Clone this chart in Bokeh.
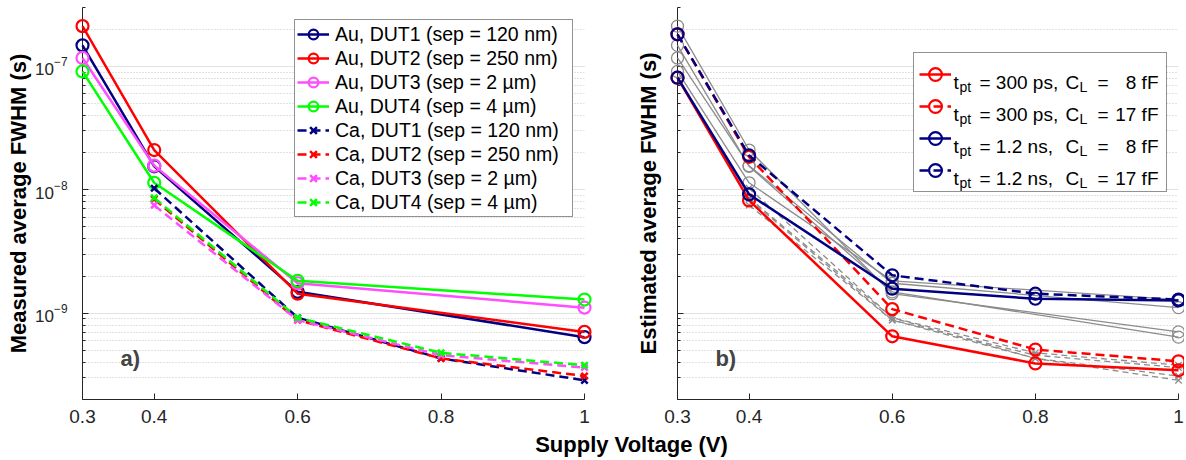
from bokeh.plotting import figure
from bokeh.models import Range1d, FixedTicker, CustomJSTickFormatter, Legend, LegendItem, Label, BoxAnnotation
from bokeh.layouts import column, row
from bokeh.embed import file_html
from bokeh.resources import INLINE
from bokeh.core.properties import value

# ---------------- data ----------------
V_AU = [0.3, 0.4, 0.6, 1.0]
V_CA = [0.4, 0.6, 0.8, 1.0]
V_SIM = [0.3, 0.4, 0.6, 0.8, 1.0]
X_TICKS = [0.3, 0.4, 0.6, 0.8, 1.0]

AU_DUT1 = [1.48e-7, 1.55e-8, 1.49e-9, 6.4e-10]
AU_DUT2 = [2.12e-7, 2.10e-8, 1.44e-9, 7.06e-10]
AU_DUT3 = [1.17e-7, 1.57e-8, 1.75e-9, 1.11e-9]
AU_DUT4 = [9.1e-8, 1.14e-8, 1.83e-9, 1.29e-9]

CA_DUT1 = [1.03e-8, 9.2e-10, 4.3e-10, 2.86e-10]
CA_DUT2 = [8.4e-9, 8.8e-10, 4.3e-10, 3.1e-10]
CA_DUT3 = [7.5e-9, 8.8e-10, 4.57e-10, 3.63e-10]
CA_DUT4 = [8.6e-9, 9.2e-10, 4.78e-10, 3.79e-10]

AU_LABELS = ["Au, DUT1 (sep = 120 nm)", "Au, DUT2 (sep = 250 nm)",
             "Au, DUT3 (sep = 2 \u00b5m)", "Au, DUT4 (sep = 4 \u00b5m)"]
CA_LABELS = ["Ca, DUT1 (sep = 120 nm)", "Ca, DUT2 (sep = 250 nm)",
             "Ca, DUT3 (sep = 2 \u00b5m)", "Ca, DUT4 (sep = 4 \u00b5m)"]
DUT_COLORS = ["#000080", "#ff0000", "#ff4dff", "#00ff00"]

SIM_300PS_8FF = [8.1e-8, 8.2e-9, 6.5e-10, 3.92e-10, 3.45e-10]
SIM_300PS_17FF = [1.82e-7, 1.85e-8, 1.08e-9, 5.08e-10, 4.08e-10]
SIM_1P2NS_8FF = [8.1e-8, 9.2e-9, 1.58e-9, 1.31e-9, 1.27e-9]
SIM_1P2NS_17FF = [1.82e-7, 1.9e-8, 2.03e-9, 1.44e-9, 1.29e-9]

SIM_TPT = ["300 ps,", "300 ps,", "1.2 ns,", "1.2 ns,"]
SIM_CL = ["8 fF", "17 fF", "8 fF", "17 fF"]
SIM_COLORS = ["#ff0000", "#ff0000", "#000080", "#000080"]
SIM_DASH = ["solid", "9 5", "solid", "9 5"]

Y_LABEL_A = "Measured average FWHM (s)"
Y_LABEL_B = "Estimated average FWHM (s)"
X_LABEL = "Supply Voltage (V)"

# ---------------- style ----------------
FONT = "Liberation Sans"
AX = "#262626"
TOP = 7
FRAME_H = 392
BOTTOM = 32
H = TOP + FRAME_H + BOTTOM


def base_fig(width, bl, br, ylabel):
    p = figure(width=width, height=H, x_range=Range1d(0.3, 1.0), y_range=Range1d(2e-10, 3e-7),
               y_axis_type="log", output_backend="svg", toolbar_location=None,
               min_border_left=bl, min_border_right=br, min_border_top=TOP, min_border_bottom=BOTTOM)
    p.outline_line_color = None
    p.xgrid.visible = False
    p.ygrid.grid_line_color = "#e2e2e2"
    p.ygrid.grid_line_width = 1
    p.ygrid.minor_grid_line_color = "#c4c4c4"
    p.ygrid.minor_grid_line_dash = "1 2"
    xa = p.xaxis[0]
    xa.ticker = FixedTicker(ticks=X_TICKS, minor_ticks=[])
    xa.formatter = CustomJSTickFormatter(code="return String(Math.round(tick*10)/10);")
    for ax in (p.xaxis[0], p.yaxis[0]):
        ax.axis_line_color = AX
        ax.major_tick_line_color = AX
        ax.minor_tick_line_color = AX
        ax.major_tick_in = 6
        ax.major_tick_out = 0
        ax.minor_tick_in = 3
        ax.minor_tick_out = 0
        ax.major_label_text_font = FONT
        ax.major_label_text_font_size = "19px"
        ax.major_label_text_color = AX
        ax.axis_label_text_font = FONT
        ax.axis_label_text_font_style = "bold"
        ax.axis_label_text_font_size = "22px"
        ax.axis_label_text_color = "black"
    xa.major_label_standoff = 10
    p.yaxis[0].axis_label = ylabel
    return p


def series(p, x, y, color, dash, marker, lw, msize, mlw):
    l = p.line(x, y, line_color=color, line_width=lw, line_dash=dash, level="overlay")
    s = p.scatter(x, y, marker=marker, size=msize, line_color=color, fill_color=None,
                  line_width=mlw, level="overlay")
    return l, s


# ---------------- panel a ----------------
p1 = base_fig(600, 82, 16, Y_LABEL_A)
p1.yaxis[0].major_label_text_font_size = "17px"
p1.yaxis[0].major_label_standoff = 15
p1.yaxis[0].axis_label_standoff = 1

au_data = [AU_DUT1, AU_DUT2, AU_DUT3, AU_DUT4]
ca_data = [CA_DUT1, CA_DUT2, CA_DUT3, CA_DUT4]
items = []
for d, c, lab in zip(au_data, DUT_COLORS, AU_LABELS):
    l, s = series(p1, V_AU, d, c, "solid", "circle", 2.5, 12, 2.2)
    items.append(LegendItem(label=value(lab), renderers=[l, s]))
for d, c, lab in zip(ca_data, DUT_COLORS, CA_LABELS):
    l, s = series(p1, V_CA, d, c, "9 5", "x", 2.5, 9, 2.5)
    items.append(LegendItem(label=value(lab), renderers=[l, s]))

leg1 = Legend(items=items, location=(212, 182), padding=2, spacing=0, margin=0,
              glyph_width=32, glyph_height=24, label_height=24, label_width=235, label_standoff=6,
              label_text_font=FONT, label_text_font_size="19.5px", label_text_color="black",
              border_line_color=AX, border_line_width=1, background_fill_color="white",
              background_fill_alpha=1)
p1.add_layout(leg1)
p1.add_layout(Label(x=0.353, y=4.3e-10, text="a)", text_font=FONT, text_font_style="bold",
                    text_font_size="22px", text_baseline="middle", text_align="left"))

# ---------------- panel b ----------------
p2 = base_fig(584, 77, 6, Y_LABEL_B)
p2.yaxis[0].formatter = CustomJSTickFormatter(code="return '';")
p2.yaxis[0].major_label_standoff = 0
p2.yaxis[0].axis_label_standoff = 17

LEG2_X, LEG2_Y, LEG2_W, LEG2_H = 236, 207, 252, 138
p2.add_layout(BoxAnnotation(left=LEG2_X, right=LEG2_X + LEG2_W, bottom=LEG2_Y, top=LEG2_Y + LEG2_H,
                            left_units="screen", right_units="screen", bottom_units="screen",
                            top_units="screen", fill_color="white", fill_alpha=1,
                            line_color=None, level="underlay"))

GRAY = "#8c8c8c"
for d in au_data:
    series(p2, V_AU, d, GRAY, "solid", "circle", 1.3, 12, 1.3)
for d in ca_data:
    series(p2, V_CA, d, GRAY, "6 4", "x", 1.3, 9, 1.3)

sim_data = [SIM_300PS_8FF, SIM_300PS_17FF, SIM_1P2NS_8FF, SIM_1P2NS_17FF]
items2 = []
for d, c, dash in zip(sim_data, SIM_COLORS, SIM_DASH):
    l, s = series(p2, V_SIM, d, c, dash, "circle", 2.5, 12, 2.2)
    items2.append(LegendItem(label=value(" "), renderers=[l, s]))

leg2 = Legend(items=items2, location=(LEG2_X, LEG2_Y), padding=5, spacing=0, margin=0,
              glyph_width=32, glyph_height=32, label_height=32, label_width=205, label_standoff=5,
              label_text_font=FONT, label_text_font_size="19px",
              border_line_color=AX, border_line_width=1, background_fill_alpha=0)
p2.add_layout(leg2)

top = LEG2_Y + LEG2_H
for i, (tpt, cl) in enumerate(zip(SIM_TPT, SIM_CL)):
    cy = top - 5 - 16 - 32 * i
    base = cy - 7
    sub = cy - 11
    pieces = [
        (40, base, "t", "19px", "left"),
        (46, sub, "pt", "14px", "left"),
        (66, base, "= " + tpt, "19px", "left"),
        (152, base, "C", "19px", "left"),
        (166, sub, "L", "14px", "left"),
        (184, base, "=", "19px", "left"),
        (245, base, cl, "19px", "right"),
    ]
    for dx, yy, txt, fs, al in pieces:
        p2.add_layout(Label(x=LEG2_X + dx, y=yy, x_units="screen", y_units="screen", text=txt,
                            text_font=FONT, text_font_size=fs, text_align=al,
                            text_baseline="alphabetic", text_color="black"))

p2.add_layout(Label(x=0.353, y=4.3e-10, text="b)", text_font=FONT, text_font_style="bold",
                    text_font_size="22px", text_baseline="middle", text_align="left"))

# ---------------- shared x label ----------------
P3_H = 459 - H
p3 = figure(width=1184, height=P3_H, x_range=Range1d(0, 1), y_range=Range1d(0, 1),
            x_axis_type=None, y_axis_type=None, output_backend="svg", toolbar_location=None,
            min_border=0)
p3.outline_line_color = None
p3.add_layout(Label(x=631, y=459 - 444, x_units="screen", y_units="screen", text=X_LABEL,
                    text_font=FONT, text_font_style="bold", text_font_size="22px",
                    text_align="center", text_baseline="middle", text_color="black"))

layout = column(row(p1, p2), p3)
open("out.html", "w").write(file_html(layout, INLINE))
